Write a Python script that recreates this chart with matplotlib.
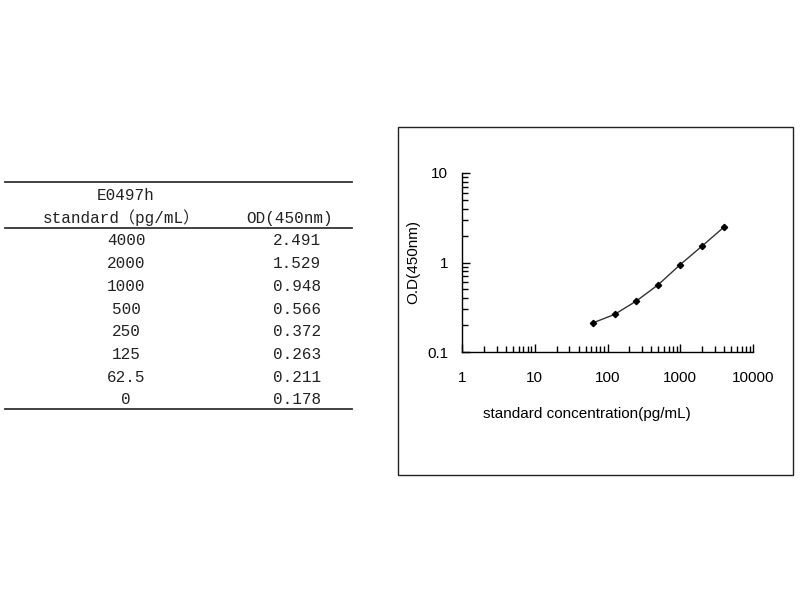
import numpy as np
import matplotlib
matplotlib.use("Agg")
import matplotlib.pyplot as plt
from matplotlib.lines import Line2D
from matplotlib.patches import Rectangle
from matplotlib.ticker import LogLocator, NullFormatter

# standard curve data
conc_labels = ["4000", "2000", "1000", "500", "250", "125", "62.5", "0"]
od_labels = ["2.491", "1.529", "0.948", "0.566", "0.372", "0.263", "0.211", "0.178"]
conc = [4000, 2000, 1000, 500, 250, 125, 62.5]
od = [2.491, 1.529, 0.948, 0.566, 0.372, 0.263, 0.211]
x_ticks = [1, 10, 100, 1000, 10000]
x_tick_labels = ["1", "10", "100", "1000", "10000"]
y_ticks = [0.1, 1, 10]
y_tick_labels = ["0.1", "1", "10"]

W, H = 800, 600
fig = plt.figure(figsize=(8, 6), dpi=100)

def fx(px):
    return px / W

def fy(py):
    return 1 - py / H

# ---- table on the left ----
mono = ["Liberation Mono", "Noto Sans CJK SC"]
for yy in [182, 228, 409]:
    fig.add_artist(Line2D([fx(5), fx(352)], [fy(yy), fy(yy)], color="#333333", lw=1.3))
fig.text(fx(126), fy(195), "E0497h", ha="center", va="center", fontsize=11.5, family=mono, color="#222222")
fig.text(fx(121), fy(218), "standard（pg/mL）", ha="center", va="center", fontsize=11.5, family=mono, color="#222222")
fig.text(fx(290), fy(218), "OD(450nm)", ha="center", va="center", fontsize=11.5, family=mono, color="#222222")
for i, (c, o) in enumerate(zip(conc_labels, od_labels)):
    yy = 241 + i * 22.7
    fig.text(fx(126), fy(yy), c, ha="center", va="center", fontsize=11.5, family=mono, color="#222222")
    fig.text(fx(297), fy(yy), o, ha="center", va="center", fontsize=11.5, family=mono, color="#222222")

# ---- frame around the chart ----
fig.add_artist(Rectangle((fx(398), fy(475)), fx(793) - fx(398), fy(127) - fy(475),
                         fill=False, edgecolor="#222222", lw=1.0, transform=fig.transFigure))

# ---- chart ----
ax = fig.add_axes([fx(462), fy(352), fx(753) - fx(462), fy(173) - fy(352)])
ax.plot(conc, od, color="#333333", lw=1.0, marker="D", markersize=3.2,
        markerfacecolor="black", markeredgecolor="black")
ax.set_xscale("log")
ax.set_yscale("log")
ax.set_xlim(1, 10000)
ax.set_ylim(0.1, 10)
for s in ["top", "right"]:
    ax.spines[s].set_visible(False)
for s in ["left", "bottom"]:
    ax.spines[s].set_linewidth(1.0)
    ax.spines[s].set_color("black")

ax.set_xticks(x_ticks)
ax.set_xticklabels(x_tick_labels)
ax.set_yticks(y_ticks)
ax.set_yticklabels(y_tick_labels)
ax.xaxis.set_minor_locator(LogLocator(base=10, subs=np.arange(2, 10)))
ax.yaxis.set_minor_locator(LogLocator(base=10, subs=np.arange(2, 10)))
ax.xaxis.set_minor_formatter(NullFormatter())
ax.yaxis.set_minor_formatter(NullFormatter())

ax.tick_params(axis="x", which="major", direction="in", length=6, width=1, pad=14, labelsize=11)
ax.tick_params(axis="x", which="minor", direction="in", length=4, width=1)
ax.tick_params(axis="y", which="major", direction="in", length=6, width=1, pad=10, labelsize=11)
ax.tick_params(axis="y", which="minor", direction="in", length=4, width=1)
for lab in ax.get_xticklabels() + ax.get_yticklabels():
    lab.set_family("Liberation Sans")

ax.set_xlabel("standard concentration(pg/mL)", family="Liberation Sans", fontsize=11, labelpad=14)
ax.xaxis.set_label_coords(0.43, -0.305)
ax.set_ylabel("O.D(450nm)", family="Liberation Sans", fontsize=11, labelpad=5)

fig.savefig("out.png", dpi=100)
